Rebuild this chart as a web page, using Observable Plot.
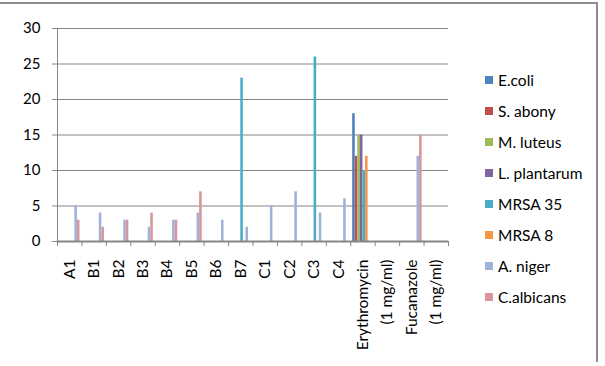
<!DOCTYPE html>
<html>
<head>
<meta charset="utf-8">
<script src="https://cdn.jsdelivr.net/npm/d3@7"></script>
<script src="https://cdn.jsdelivr.net/npm/@observablehq/plot@0.6"></script>
<style>
  html, body { margin: 0; padding: 0; background: #fff; }
  #wrap { position: relative; width: 605px; height: 366px; overflow: hidden; font-family: Lato, "Open Sans", sans-serif; }
  #wrap svg { position: absolute; left: 0; top: 0; }
  #border { position: absolute; left: -2px; top: 2px; width: 600px; height: 360px; border-top: 2px solid #8c8c8c; border-right: 2px solid #8c8c8c; box-sizing: border-box; pointer-events: none; }
  #legend { position: absolute; left: 485px; top: 64px; font-size: 15.5px; color: #000; }
  #legend .item { height: 31.1px; display: flex; align-items: center; white-space: nowrap; }
  #legend .sw { width: 8px; height: 8px; margin-right: 5px; flex: none; }
</style>
</head>
<body>
<div id="wrap"><div id="border"></div><div id="legend"></div></div>
<script>
// Categories (x axis tick labels, as they appear on the axis)
const categories = ["A1", "B1", "B2", "B3", "B4", "B5", "B6", "B7", "C1", "C2", "C3", "C4",
  "Erythromycin", "(1 mg/ml)", "Fucanazole", "(1 mg/ml)"];

// Series names and colours
const series = ["E.coli", "S. abony", "M. luteus", "L. plantarum", "MRSA 35", "MRSA 8", "A. niger", "C.albicans"];
const colors = ["#4f81bd", "#c0504d", "#9bbb59", "#8064a2", "#4bacc6", "#f79646", "#9db3db", "#d9969a"];

// Values per series, one per category
const eColi       = [0, 0, 0, 0, 0, 0, 0, 0, 0, 0, 0, 0, 18, 0, 0, 0];
const sAbony      = [0, 0, 0, 0, 0, 0, 0, 0, 0, 0, 0, 0, 12, 0, 0, 0];
const mLuteus     = [0, 0, 0, 0, 0, 0, 0, 0, 0, 0, 0, 0, 15, 0, 0, 0];
const lPlantarum  = [0, 0, 0, 0, 0, 0, 0, 0, 0, 0, 0, 0, 15, 0, 0, 0];
const mrsa35      = [0, 0, 0, 0, 0, 0, 0, 23, 0, 0, 26, 0, 10, 0, 0, 0];
const mrsa8       = [0, 0, 0, 0, 0, 0, 0, 0, 0, 0, 0, 0, 12, 0, 0, 0];
const aNiger      = [5, 4, 3, 2, 3, 4, 3, 2, 5, 7, 4, 6, 0, 0, 12, 0];
const cAlbicans   = [3, 2, 3, 4, 3, 7, 0, 0, 0, 0, 0, 0, 0, 0, 15, 0];

const yTicks = [0, 5, 10, 15, 20, 25, 30];

const seriesValues = [eColi, sAbony, mLuteus, lPlantarum, mrsa35, mrsa8, aNiger, cAlbicans];
const nS = series.length;
const gap = 1.5; // Excel gap width 150%
const rows = [];
seriesValues.forEach((vals, si) => vals.forEach((v, ci) => {
  if (v > 0) rows.push({ci, si, s: series[si], v});
}));
const slot = 1 / (nS + gap);

const grey = "#868686";
const chart = Plot.plot({
  width: 605,
  height: 366,
  marginLeft: 57,
  marginRight: 157,
  marginTop: 28,
  marginBottom: 125,
  x: {domain: [0, categories.length]},
  y: {domain: [0, 30]},
  color: {domain: series, range: colors},
  style: {fontFamily: "Lato, 'Open Sans', sans-serif", fontSize: "15px", color: "#000", background: "transparent"},
  marks: [
    Plot.gridY({ticks: yTicks, stroke: grey, strokeOpacity: 1, strokeWidth: 1}),
    Plot.ruleX([0], {stroke: grey, strokeWidth: 1}),
    Plot.axisY({ticks: yTicks, tickSize: 5, tickPadding: 12, stroke: grey, fontSize: 15, label: null}),
    Plot.rectY(rows, {
      x1: d => d.ci + (gap / 2 + d.si) * slot,
      x2: d => d.ci + (gap / 2 + d.si + 1) * slot,
      y: "v",
      fill: "s",
      inset: 0
    }),
    Plot.ruleY([0], {stroke: grey, strokeWidth: 2}),
    Plot.axisX({ticks: d3.range(categories.length + 1), tickSize: 5, tickFormat: () => "", stroke: grey, label: null}),
    Plot.axisX({
      ticks: d3.range(categories.length).map(i => i + 0.5),
      tickSize: 0,
      tickPadding: 18,
      tickRotate: -90,
      tickFormat: t => categories[Math.floor(t)],
      fontSize: 15.5,
      label: null
    })
  ]
});
const wrap = document.getElementById("wrap");
wrap.insertBefore(chart, wrap.firstChild);

const legend = document.getElementById("legend");
series.forEach((s, i) => {
  const item = document.createElement("div");
  item.className = "item";
  const sw = document.createElement("span");
  sw.className = "sw";
  sw.style.background = colors[i];
  item.appendChild(sw);
  item.appendChild(document.createTextNode(s));
  legend.appendChild(item);
});
</script>
</body>
</html>
